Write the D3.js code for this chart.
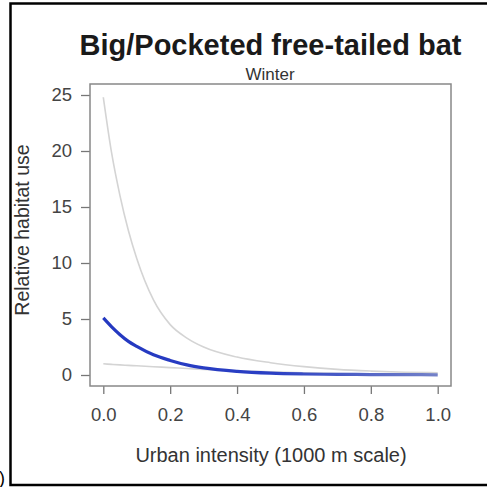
<!DOCTYPE html>
<html>
<head>
<meta charset="utf-8">
<script src="https://cdn.jsdelivr.net/npm/d3@7"></script>
<style>
  body { margin: 0; background: #fff; }
  svg { display: block; font-family: "Liberation Sans", Arial, sans-serif; }
</style>
</head>
<body>
<div id="chart"></div>
<script>
// values
var urban = [0, 0.025, 0.05, 0.075, 0.1, 0.15, 0.2, 0.25, 0.3, 0.4, 0.5, 0.6, 0.7, 0.8, 0.9, 1.0];
var upperCI = [24.8, 19.8, 16.0, 12.9, 10.4, 6.7, 4.5, 3.3, 2.5, 1.6, 1.1, 0.75, 0.5, 0.35, 0.25, 0.2];
var fitted = [5.1, 4.3, 3.6, 3.0, 2.55, 1.8, 1.3, 0.9, 0.63, 0.32, 0.16, 0.09, 0.06, 0.04, 0.03, 0.02];
var lowerCI = [1.0, 0.95, 0.9, 0.86, 0.82, 0.74, 0.66, 0.58, 0.5, 0.38, 0.28, 0.2, 0.14, 0.1, 0.07, 0.05];
var xTicks = [0, 0.2, 0.4, 0.6, 0.8, 1.0];
var yTicks = [0, 5, 10, 15, 20, 25];

var W = 487, H = 487;
var box = {left: 90, top: 84, right: 451, bottom: 386};

var svg = d3.select("#chart").append("svg")
	.attr("width", W)
	.attr("height", H);

// outer frame (right side falls off the picture)
svg.append("path")
	.attr("d", "M" + (W + 5) + ",3.5 H10.5 V485 H" + (W + 5))
	.attr("fill", "none")
	.attr("stroke", "#000")
	.attr("stroke-width", 2.5);

svg.append("text")
	.attr("x", -1)
	.attr("y", 484)
	.attr("font-size", 18)
	.attr("fill", "#000")
	.text(")");

var x = d3.scaleLinear().domain([0, 1]).range([103.3, 437.7]);
var y = d3.scaleLinear().domain([0, 25]).range([375, 95]);

// titles
svg.append("text")
	.attr("x", 270.5)
	.attr("y", 55)
	.attr("text-anchor", "middle")
	.attr("font-size", 29)
	.attr("font-weight", "bold")
	.attr("fill", "#1a1a1a")
	.text("Big/Pocketed free-tailed bat");

svg.append("text")
	.attr("x", 270)
	.attr("y", 80)
	.attr("text-anchor", "middle")
	.attr("font-size", 17)
	.attr("fill", "#333")
	.text("Winter");

// axes
var xAxis = d3.axisBottom(x).tickValues(xTicks).tickSize(8).tickPadding(14)
	.tickFormat(d3.format(".1f"));
var yAxis = d3.axisLeft(y).tickValues(yTicks).tickSize(9).tickPadding(9);

var gx = svg.append("g")
	.attr("transform", "translate(0," + box.bottom + ")")
	.call(xAxis);
var gy = svg.append("g")
	.attr("transform", "translate(" + box.left + ",0)")
	.call(yAxis);

[gx, gy].forEach(function(g) {
	g.select(".domain").remove();
	g.selectAll("line").attr("stroke", "#777").attr("stroke-width", 1.3);
	g.selectAll("text").attr("font-size", 18.5).attr("fill", "#444")
		.attr("font-family", "Liberation Sans, Arial, sans-serif");
});

svg.append("text")
	.attr("x", 271)
	.attr("y", 462)
	.attr("text-anchor", "middle")
	.attr("font-size", 20)
	.attr("fill", "#333")
	.text("Urban intensity (1000 m scale)");

svg.append("text")
	.attr("transform", "translate(29,230) rotate(-90)")
	.attr("text-anchor", "middle")
	.attr("font-size", 19.5)
	.attr("fill", "#333")
	.text("Relative habitat use");

// plot box
svg.append("rect")
	.attr("x", box.left)
	.attr("y", box.top)
	.attr("width", box.right - box.left)
	.attr("height", box.bottom - box.top)
	.attr("fill", "none")
	.attr("stroke", "#888")
	.attr("stroke-width", 1.5);

var defs = svg.append("defs");
var grad = defs.append("linearGradient")
	.attr("id", "blueGrad")
	.attr("gradientUnits", "userSpaceOnUse")
	.attr("x1", x(0)).attr("x2", x(1))
	.attr("y1", 0).attr("y2", 0);
grad.append("stop").attr("offset", "0%").attr("stop-color", "#2438c0");
grad.append("stop").attr("offset", "50%").attr("stop-color", "#2a3fc4");
grad.append("stop").attr("offset", "100%").attr("stop-color", "#7482c8");

var line = function(vals) {
	return d3.line()
		.x(function(d, i) { return x(urban[i]); })
		.y(function(d) { return y(d); })
		.curve(d3.curveMonotoneX)(vals);
};

svg.append("path")
	.attr("d", line(upperCI))
	.attr("fill", "none")
	.attr("stroke", "#d4d4d4")
	.attr("stroke-width", 1.6);

svg.append("path")
	.attr("d", line(lowerCI))
	.attr("fill", "none")
	.attr("stroke", "#d4d4d4")
	.attr("stroke-width", 1.6);

svg.append("path")
	.attr("d", line(fitted))
	.attr("fill", "none")
	.attr("stroke", "url(#blueGrad)")
	.attr("stroke-width", 3.2);
</script>
</body>
</html>
